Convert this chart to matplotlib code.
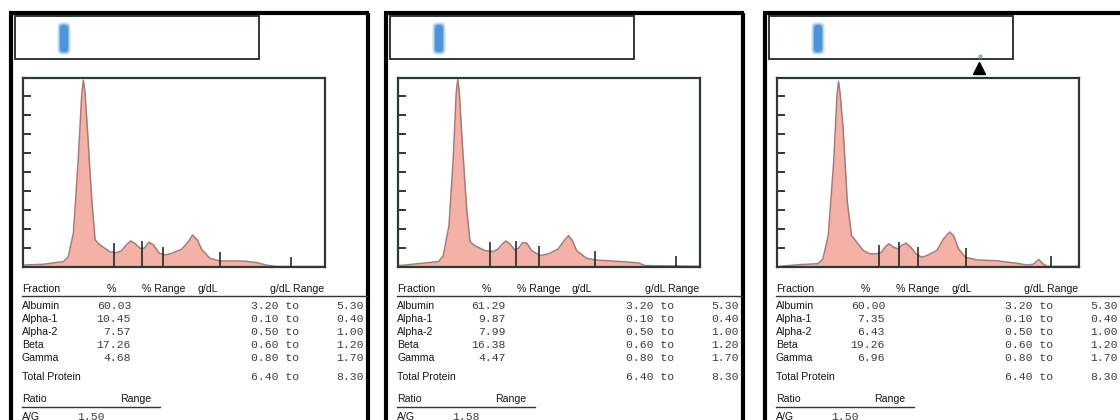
import matplotlib.pyplot as plt
from matplotlib.patches import Rectangle, FancyBboxPatch

# report contents
fractions = ['Albumin', 'Alpha-1', 'Alpha-2', 'Beta', 'Gamma']
ref_low = [3.20, 0.10, 0.50, 0.60, 0.80]
ref_high = [5.30, 0.40, 1.00, 1.20, 1.70]
protein_low, protein_high = 6.40, 8.30

pct_a = [60.03, 10.45, 7.57, 17.26, 4.68]
pct_b = [61.29, 9.87, 7.99, 16.38, 4.47]
pct_c = [60.00, 7.35, 6.43, 19.26, 6.96]
ag_ratio = [1.50, 1.58, 1.50]

# densitometer traces, x and y in % of the scan window
scan_x_a = [0.5, 6.6, 13.3, 14.9, 16.6, 18.2, 19.4, 19.9, 20.4, 21.2, 22.7, 23.8, 25.4, 28.7,
            30.9, 32.6, 34.3, 35.6, 37.0, 38.7, 40.0, 41.7, 43.1, 45.1, 47.0, 49.2,
            52.5, 54.7, 56.1, 57.7, 59.1, 61.9, 65.2, 72.9, 77.3, 80.7, 84.0, 100]
scan_y_a = [1.2, 1.6, 3.0, 5.6, 17.9, 56.5, 92.0, 98.6, 93.0, 74.0, 35.4, 14.4, 11.8, 8.2,
            7.7, 8.8, 12.1, 13.9, 12.6, 10.0, 10.0, 13.2, 11.8, 7.4, 6.5, 7.4,
            9.5, 13.5, 17.0, 14.4, 9.5, 4.7, 3.3, 3.3, 2.5, 1.1, 0.4, 0.4]
cuts_x_a = [30.2, 39.2, 46.3, 65.1, 88.6]
cuts_y_a = [12.6, 14.0, 10.9, 8.2, 5.3]

scan_x_b = [0.5, 13.3, 14.9, 16.8, 18.2, 19.2, 19.7, 20.2, 21.2, 22.7, 23.8, 25.4, 28.7, 31.5,
            33.1, 34.5, 35.7, 37.0, 38.5, 39.8, 41.2, 42.5, 44.2, 47.0, 49.7, 53.0,
            55.0, 56.4, 57.7, 59.1, 62.4, 65.2, 74.0, 79.6, 81.8, 100]
scan_y_b = [0.9, 3.0, 6.0, 22.0, 57.0, 92.0, 99.0, 93.0, 65.5, 30.0, 13.5, 11.4, 8.8, 8.3,
            9.7, 12.3, 13.9, 12.3, 9.3, 10.0, 12.9, 12.9, 8.8, 6.2, 7.0, 9.7,
            14.1, 16.7, 14.1, 8.8, 4.8, 3.9, 3.0, 2.3, 0.9, 0.5]
cuts_x_b = [30.4, 39.1, 46.5, 65.2, 91.9]
cuts_y_b = [13.2, 14.1, 11.4, 8.8, 6.2]

scan_x_c = [0.8, 7.4, 13.5, 15.1, 16.9, 18.7, 19.8, 20.3, 20.8, 21.8, 23.2, 24.6, 26.3, 28.5,
            30.7, 32.9, 34.6, 35.7, 37.0, 38.5, 40.1, 41.2, 42.7, 44.2, 46.0, 47.9,
            49.6, 52.9, 55.1, 57.1, 58.4, 60.1, 62.3, 66.2, 72.8, 79.5, 82.8, 84.8,
            86.7, 88.1, 89.5, 100]
scan_y_c = [0.5, 1.4, 1.9, 4.4, 16.8, 55.8, 91.0, 97.9, 92.0, 73.5, 34.5, 16.8, 13.3, 8.8,
            7.1, 7.1, 8.0, 10.6, 12.4, 10.6, 9.7, 11.5, 12.7, 10.6, 7.1, 5.3,
            6.2, 8.8, 15.0, 18.6, 16.8, 9.7, 5.3, 3.9, 3.4, 2.1, 1.2, 1.6,
            4.1, 1.8, 0.5, 0.5]
cuts_x_c = [33.7, 40.5, 46.6, 62.6, 90.7]
cuts_y_c = [11.5, 13.3, 10.6, 10.1, 5.7]

panels = [
    (pct_a, scan_x_a, scan_y_a, cuts_x_a, cuts_y_a),
    (pct_b, scan_x_b, scan_y_b, cuts_x_b, cuts_y_b),
    (pct_c, scan_x_c, scan_y_c, cuts_x_c, cuts_y_c),
]
offsets = [0, 375, 754]

W, H = 1120, 420
fig = plt.figure(figsize=(11.2, 4.2), dpi=100)
fig.patch.set_facecolor('white')

# page layer in pixel units, y downwards
page = fig.add_axes([0, 0, 1, 1])
page.set_xlim(0, W)
page.set_ylim(H, 0)
page.axis('off')

SANS = 'Liberation Sans'
MONO = 'Liberation Mono'
DARK = '#2e3838'


def label(x, y, s, **kw):
    page.text(x, y, s, family=SANS, fontsize=7.6, color='#151515', va='center', **kw)


def mono(x, y, s, **kw):
    page.text(x, y, s, family=MONO, fontsize=8.2, color='#3c3c3c', va='center', **kw)


for i, (pct, sx, sy, cx, cy) in enumerate(panels):
    ox = offsets[i]
    last = i == len(panels) - 1

    # outer frame
    right = W if last else ox + 369
    page.plot([ox + 10.5, ox + 10.5], [12.5, H], color='black', lw=3, solid_capstyle='butt')
    page.plot([ox + 9, right], [12.5, 12.5], color='black', lw=3, solid_capstyle='butt')
    if not last:
        page.plot([ox + 368, ox + 368], [12.5, H], color='black', lw=3, solid_capstyle='butt')

    # gel strip with the albumin band
    page.add_patch(Rectangle((ox + 14.5, 15.5), 244, 43, fill=False, ec=DARK, lw=1.4))
    for pad, col, a in [(2.5, '#a9cdf0', 0.6), (1.2, '#79b0e6', 0.8), (0, '#4f93da', 1)]:
        page.add_patch(FancyBboxPatch((ox + 60 - pad, 25 - pad), 8 + 2 * pad, 27 + 2 * pad,
                                      boxstyle='round,pad=0,rounding_size=4',
                                      fc=col, ec='none', alpha=a))

    # densitometer scan
    ax = fig.add_axes([(ox + 23.3) / W, 1 - 267.3 / H, 301.7 / W, 189.8 / H])
    ax.fill_between(sx, sy, 0, color='#f4b1a7', lw=0)
    ax.plot(sx, sy, color='#a97a74', lw=1.1)
    ax.vlines(cx, 0, cy, color='#1a1a1a', lw=1.1)
    ax.set_xlim(0, 100)
    ax.set_ylim(0, 100)
    ax.set_xticks([])
    ax.set_yticks(range(10, 100, 10))
    ax.set_yticklabels([])
    ax.tick_params(axis='y', direction='in', length=5.5, width=1.4, color=DARK)
    for sp in ax.spines.values():
        sp.set_color(DARK)
        sp.set_linewidth(1.6)

    # fraction table
    label(ox + 22, 289, 'Fraction')
    label(ox + 111, 289, '%', ha='center')
    label(ox + 142, 289, '% Range')
    label(ox + 197, 289, 'g/dL')
    label(ox + 270, 289, 'g/dL Range')
    page.plot([ox + 22, W if last else ox + 367], [295.5, 295.5], color=DARK, lw=1)

    for k, name in enumerate(fractions):
        y = 306 + k * 13
        label(ox + 22, y, name)
        mono(ox + 131, y, f'{pct[k]:.2f}', ha='right')
        mono(ox + 251, y, f'{ref_low[k]:.2f} to')
        mono(ox + 364, y, f'{ref_high[k]:.2f}', ha='right')

    label(ox + 22, 377, 'Total Protein')
    mono(ox + 251, 377, f'{protein_low:.2f} to')
    mono(ox + 364, 377, f'{protein_high:.2f}', ha='right')

    label(ox + 22, 399, 'Ratio')
    label(ox + 120, 399, 'Range')
    page.plot([ox + 22, ox + 160], [406.5, 406.5], color=DARK, lw=1)
    label(ox + 22, 417, 'A/G')
    mono(ox + 77, 417, f'{ag_ratio[i]:.2f}')

# marker under the strip of the last report
page.plot([979], [68], marker='^', ms=8.5, color='black', ls='none')
page.plot([980], [56], marker='o', ms=2, color='#7fb0e0', ls='none')

fig.savefig('out.png', dpi=100)
